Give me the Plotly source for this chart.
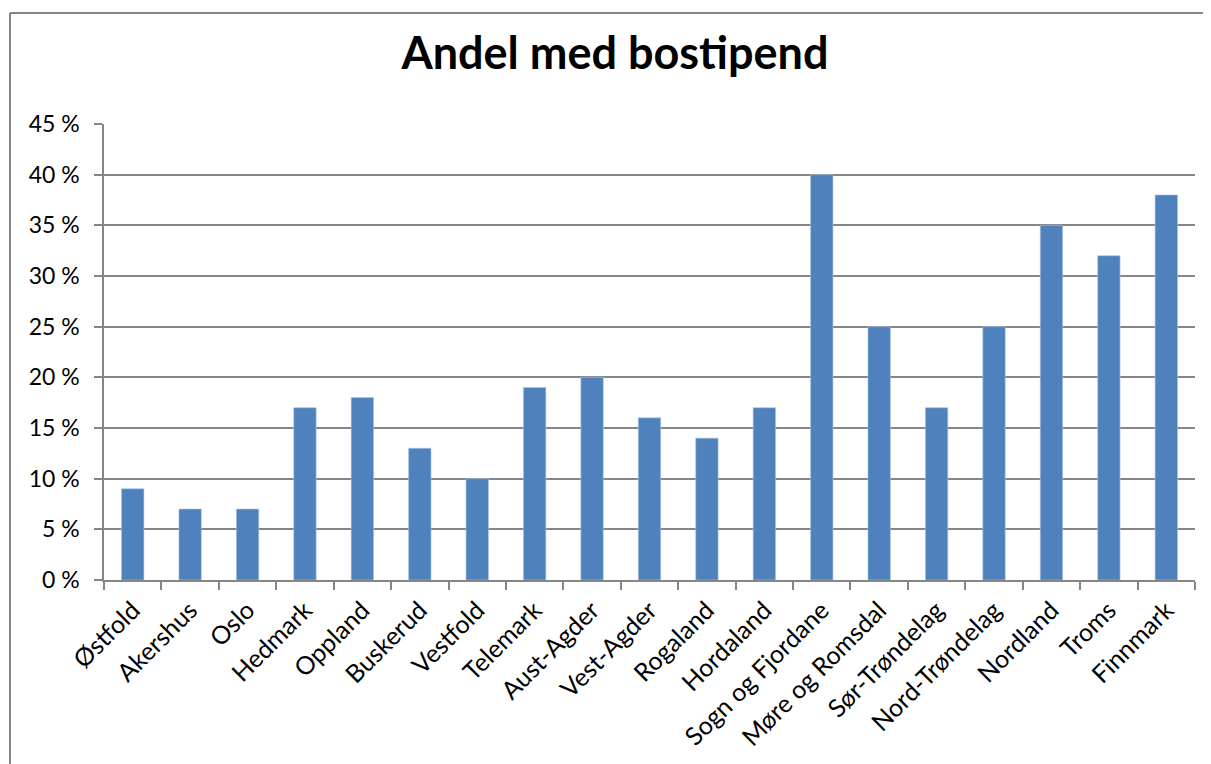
import plotly.graph_objects as go

categories = ["Østfold", "Akershus", "Oslo", "Hedmark", "Oppland", "Buskerud", "Vestfold",
              "Telemark", "Aust-Agder", "Vest-Agder", "Rogaland", "Hordaland",
              "Sogn og Fjordane", "Møre og Romsdal", "Sør-Trøndelag", "Nord-Trøndelag",
              "Nordland", "Troms", "Finnmark"]
values = [9, 7, 7, 17, 18, 13, 10, 19, 20, 16, 14, 17, 40, 25, 17, 25, 35, 32, 38]
y_ticks = [0, 5, 10, 15, 20, 25, 30, 35, 40, 45]
y_tick_labels = [f"{v} %" for v in y_ticks]

OFF = 8  # page body margin
W, H = 1211 - OFF, 764 - OFF
L, R, T, B = 104 - OFF, 16, 124 - OFF, 184
pw, ph = W - L - R, H - T - B
FONT = "Lato"

fig = go.Figure(go.Bar(
    x=categories, y=values,
    marker=dict(color="#4F81BD", line=dict(color="#A9C4E6", width=0.6)),
))

fig.update_layout(
    width=W, height=H,
    margin=dict(l=L, r=R, t=T, b=B),
    paper_bgcolor="white", plot_bgcolor="white",
    bargap=0.61,
    showlegend=False,
    title=dict(text="<b>Andel med bostipend</b>", x=(615 - OFF) / W, xanchor="center",
               y=1 - (53 - OFF) / H, yanchor="middle",
               font=dict(family=FONT, size=45, color="black")),
    font=dict(family=FONT, size=22, color="black"),
)

fig.update_xaxes(
    type="category", tickangle=-45, tickson="boundaries",
    ticks="outside", ticklen=8, tickcolor="#868686", tickwidth=1.5,
    showline=True, linecolor="#868686", linewidth=1.5,
    showgrid=False, ticklabelstandoff=4,
    tickfont=dict(family=FONT, size=25, color="black"),
)
fig.update_yaxes(
    range=[0, 45], tickvals=y_ticks, ticktext=y_tick_labels,
    ticks="outside", ticklen=8, tickcolor="#868686", tickwidth=1.5,
    showline=True, linecolor="#868686", linewidth=1.5,
    showgrid=True, gridcolor="#868686", gridwidth=1.5,
    zeroline=False, ticklabelstandoff=10,
    tickfont=dict(family=FONT, size=23, color="black"),
)

# outer chart frame (top and left edges visible)
bx = (10 - OFF - L) / pw
by = (H - B - (13 - OFF)) / ph
fig.add_shape(type="line", xref="paper", yref="paper", x0=bx, x1=(W - L + 5) / pw, y0=by, y1=by,
              line=dict(color="#868686", width=2))
fig.add_shape(type="line", xref="paper", yref="paper", x0=bx, x1=bx, y0=by, y1=-(B + 5) / ph,
              line=dict(color="#868686", width=2))

fig.write_html("out.html")
